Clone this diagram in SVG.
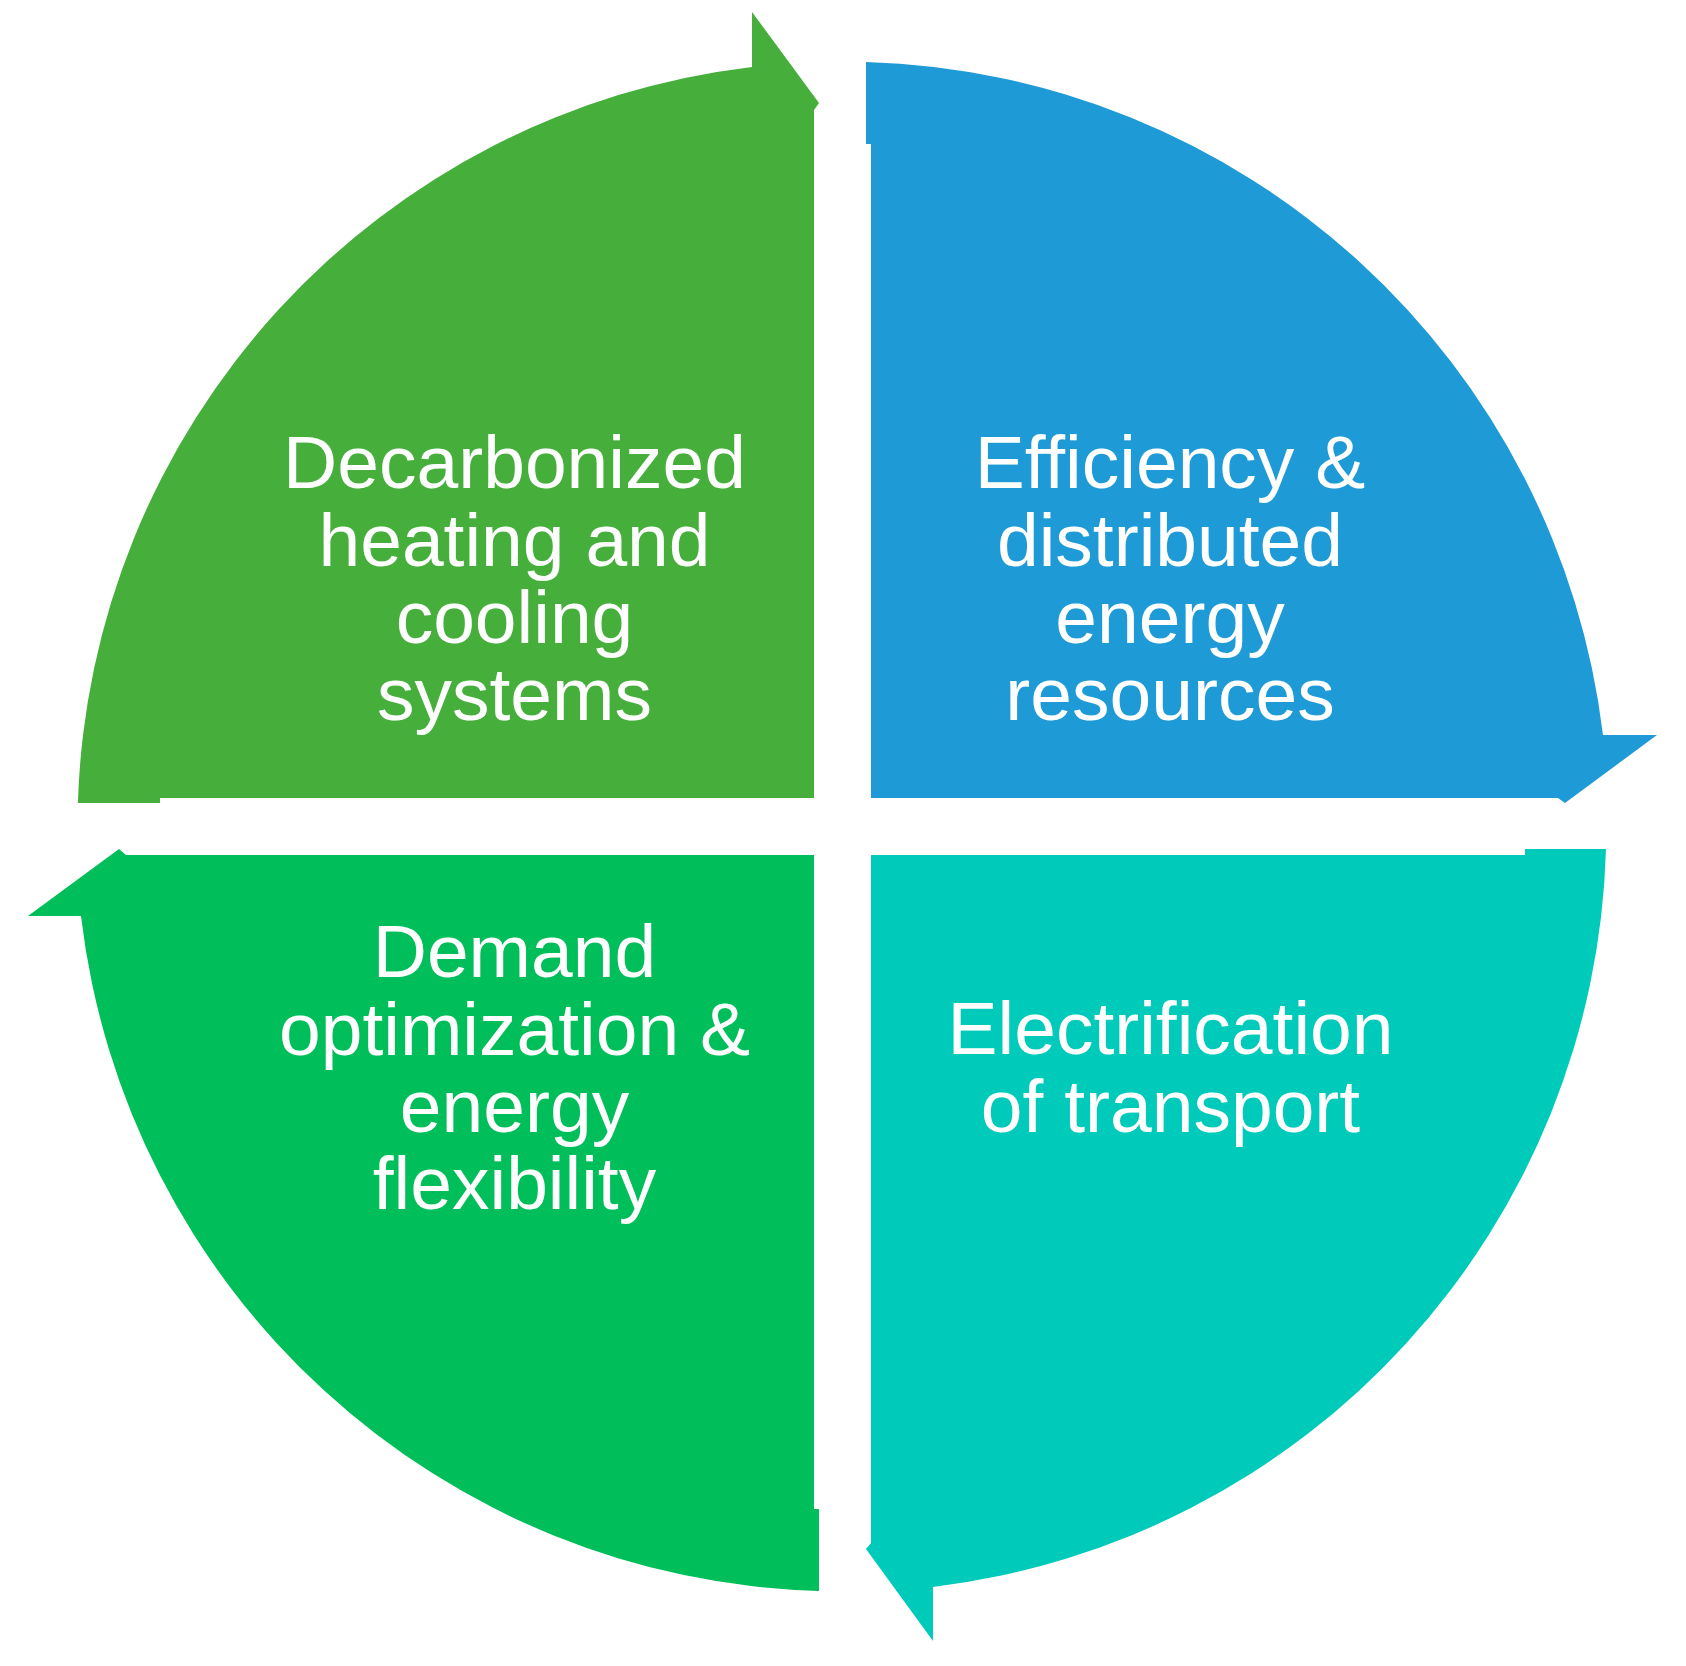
<svg xmlns="http://www.w3.org/2000/svg" width="1686" height="1666" viewBox="0 0 1686 1666">
  <style>
    .lbl { font-family: "Liberation Sans", Arial, sans-serif; font-size: 75px; fill: #ffffff; text-anchor: middle; }
  </style>
  <rect width="1686" height="1666" fill="#ffffff"/>
  <g id="node-heating">
    <path d="M 752,66.9 A 765 765 0 0 0 77.9,803 L 160,803 L 160,798 L 814,798 L 814,110 L 819,103 L 752,12 Z" fill="#46AF3C"/>
    <text class="lbl"><tspan x="514.5" y="488">Decarbonized</tspan><tspan x="514.5" y="565.5">heating and</tspan><tspan x="514.5" y="642.7">cooling</tspan><tspan x="514.5" y="720">systems</tspan></text>
  </g>
  <g id="node-efficiency">
    <path d="M 866,61.9 A 765 765 0 0 1 1603,735 L 1657,735 L 1565,803 L 1558,798 L 871,798 L 871,144 L 866,144 Z" fill="#1E9BD7"/>
    <text class="lbl"><tspan x="1170" y="488">Efficiency &amp;</tspan><tspan x="1170" y="565.5">distributed</tspan><tspan x="1170" y="642.7">energy</tspan><tspan x="1170" y="720">resources</tspan></text>
  </g>
  <g id="node-transport">
    <path d="M 1606,849 A 765 765 0 0 1 933,1587 L 933,1641 L 866,1549 L 871,1543 L 871,855 L 1525,855 L 1525,849 Z" fill="#00CAB9"/>
    <text class="lbl"><tspan x="1170.5" y="1053.5">Electrification</tspan><tspan x="1170.5" y="1131.7">of transport</tspan></text>
  </g>
  <g id="node-demand">
    <path d="M 819,1591 A 765 765 0 0 1 81,916 L 28,916 L 119,849 L 126,855 L 814,855 L 814,1509 L 819,1509 Z" fill="#00BE5A"/>
    <text class="lbl"><tspan x="514.5" y="977">Demand</tspan><tspan x="514.5" y="1055">optimization &amp;</tspan><tspan x="514.5" y="1132">energy</tspan><tspan x="514.5" y="1209">flexibility</tspan></text>
  </g>
  <g id="connectors"></g>
</svg>
